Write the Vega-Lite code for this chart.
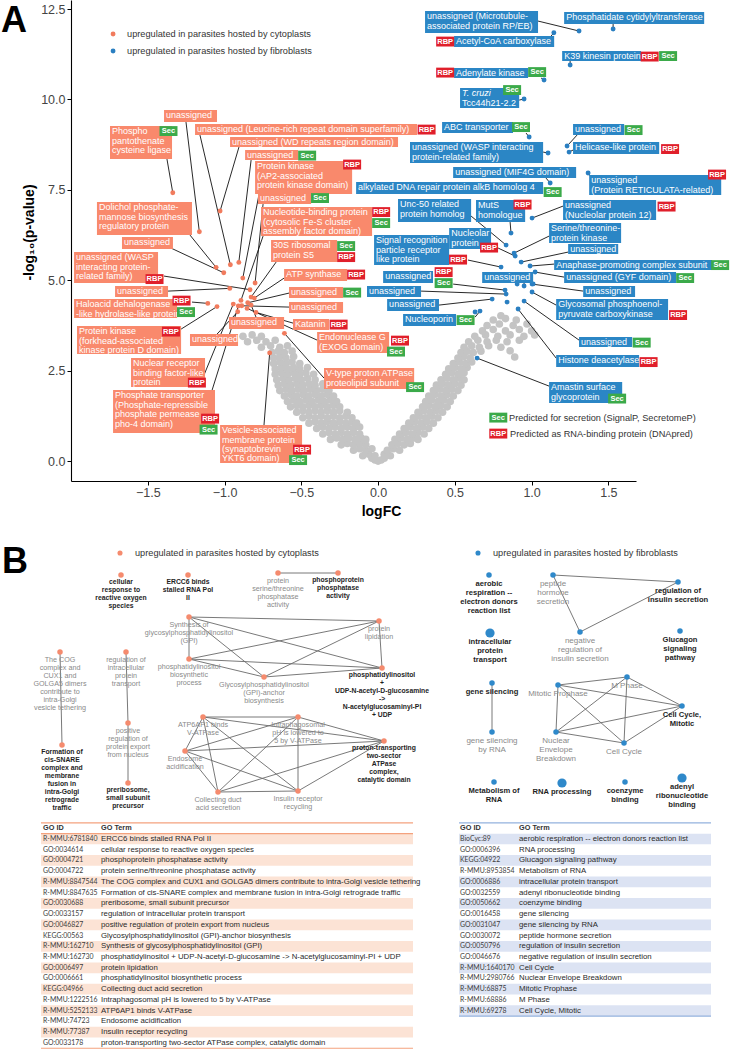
{
"$schema":"https://vega.github.io/schema/vega-lite/v6.json",
"background":"white",
"padding":0,
"spacing":0,
"bounds":"flush",
"config":{"view":{"stroke":null},"font":"Liberation Sans"},
"datasets":{
"gray":[
{"x":0,"y":0},{"x":-0.02,"y":0.03},{"x":0.02,"y":0.03},{"x":-0.04,"y":0.08},{"x":0.04,"y":0.08},
{"x":-0.10,"y":0.15},{"x":-0.06,"y":0.19},{"x":-0.02,"y":0.15},{"x":0.04,"y":0.19},{"x":0.08,"y":0.15},
{"x":-0.16,"y":0.30},{"x":-0.12,"y":0.34},{"x":-0.08,"y":0.30},{"x":-0.04,"y":0.34},{"x":0.06,"y":0.30},{"x":0.10,"y":0.34},{"x":0.14,"y":0.30},
{"x":-0.24,"y":0.45},{"x":-0.20,"y":0.49},{"x":-0.16,"y":0.45},{"x":-0.12,"y":0.49},{"x":-0.08,"y":0.45},{"x":0.09,"y":0.45},{"x":0.13,"y":0.49},{"x":0.17,"y":0.45},{"x":0.21,"y":0.49},
{"x":-0.31,"y":0.60},{"x":-0.27,"y":0.64},{"x":-0.23,"y":0.60},{"x":-0.19,"y":0.64},{"x":-0.15,"y":0.60},{"x":-0.11,"y":0.64},{"x":-0.08,"y":0.60},{"x":0.11,"y":0.60},{"x":0.15,"y":0.64},{"x":0.19,"y":0.60},{"x":0.23,"y":0.64},{"x":0.26,"y":0.60},
{"x":-0.36,"y":0.75},{"x":-0.32,"y":0.79},{"x":-0.28,"y":0.75},{"x":-0.24,"y":0.79},{"x":-0.20,"y":0.75},{"x":-0.16,"y":0.79},{"x":-0.12,"y":0.75},{"x":0.14,"y":0.75},{"x":0.18,"y":0.79},{"x":0.22,"y":0.75},{"x":0.26,"y":0.79},{"x":0.30,"y":0.75},
{"x":-0.40,"y":0.90},{"x":-0.36,"y":0.94},{"x":-0.32,"y":0.90},{"x":-0.28,"y":0.94},{"x":-0.24,"y":0.90},{"x":-0.20,"y":0.94},{"x":-0.16,"y":0.90},{"x":-0.12,"y":0.94},{"x":0.17,"y":0.90},{"x":0.21,"y":0.94},{"x":0.25,"y":0.90},{"x":0.29,"y":0.94},{"x":0.33,"y":0.90},
{"x":-0.45,"y":1.05},{"x":-0.41,"y":1.09},{"x":-0.37,"y":1.05},{"x":-0.33,"y":1.09},{"x":-0.29,"y":1.05},{"x":-0.25,"y":1.09},{"x":-0.21,"y":1.05},{"x":-0.17,"y":1.09},{"x":-0.14,"y":1.05},{"x":0.20,"y":1.05},{"x":0.24,"y":1.09},{"x":0.28,"y":1.05},{"x":0.32,"y":1.09},{"x":0.36,"y":1.05},
{"x":-0.49,"y":1.20},{"x":-0.45,"y":1.24},{"x":-0.41,"y":1.20},{"x":-0.37,"y":1.24},{"x":-0.33,"y":1.20},{"x":-0.29,"y":1.24},{"x":-0.25,"y":1.20},{"x":-0.21,"y":1.24},{"x":-0.17,"y":1.20},{"x":0.23,"y":1.20},{"x":0.27,"y":1.24},{"x":0.31,"y":1.20},{"x":0.35,"y":1.24},{"x":0.39,"y":1.20},
{"x":-0.53,"y":1.35},{"x":-0.49,"y":1.39},{"x":-0.45,"y":1.35},{"x":-0.41,"y":1.39},{"x":-0.37,"y":1.35},{"x":-0.33,"y":1.39},{"x":-0.29,"y":1.35},{"x":-0.25,"y":1.39},{"x":-0.20,"y":1.35},{"x":0.26,"y":1.35},{"x":0.30,"y":1.39},{"x":0.34,"y":1.35},{"x":0.38,"y":1.39},{"x":0.42,"y":1.35},
{"x":-0.57,"y":1.50},{"x":-0.53,"y":1.54},{"x":-0.49,"y":1.50},{"x":-0.45,"y":1.54},{"x":-0.41,"y":1.50},{"x":-0.37,"y":1.54},{"x":-0.33,"y":1.50},{"x":-0.29,"y":1.54},{"x":-0.25,"y":1.50},{"x":0.29,"y":1.50},{"x":0.33,"y":1.54},{"x":0.37,"y":1.50},{"x":0.41,"y":1.54},{"x":0.45,"y":1.50},
{"x":-0.59,"y":1.65},{"x":-0.55,"y":1.69},{"x":-0.51,"y":1.65},{"x":-0.47,"y":1.69},{"x":-0.43,"y":1.65},{"x":-0.39,"y":1.69},{"x":-0.35,"y":1.65},{"x":-0.31,"y":1.69},{"x":-0.27,"y":1.65},{"x":0.31,"y":1.65},{"x":0.35,"y":1.69},{"x":0.39,"y":1.65},{"x":0.43,"y":1.69},{"x":0.47,"y":1.65},
{"x":-0.61,"y":1.80},{"x":-0.57,"y":1.84},{"x":-0.53,"y":1.80},{"x":-0.49,"y":1.84},{"x":-0.45,"y":1.80},{"x":-0.41,"y":1.84},{"x":-0.37,"y":1.80},{"x":-0.33,"y":1.84},{"x":-0.29,"y":1.80},{"x":0.33,"y":1.80},{"x":0.37,"y":1.84},{"x":0.41,"y":1.80},{"x":0.45,"y":1.84},{"x":0.49,"y":1.80},
{"x":-0.64,"y":1.95},{"x":-0.60,"y":1.99},{"x":-0.56,"y":1.95},{"x":-0.52,"y":1.99},{"x":-0.48,"y":1.95},{"x":-0.44,"y":1.99},{"x":-0.40,"y":1.95},{"x":-0.36,"y":1.99},{"x":-0.32,"y":1.95},{"x":0.36,"y":1.95},{"x":0.40,"y":1.99},{"x":0.44,"y":1.95},{"x":0.48,"y":1.99},{"x":0.52,"y":1.95},
{"x":-0.65,"y":2.10},{"x":-0.61,"y":2.14},{"x":-0.57,"y":2.10},{"x":-0.53,"y":2.14},{"x":-0.49,"y":2.10},{"x":-0.45,"y":2.14},{"x":-0.41,"y":2.10},{"x":-0.36,"y":2.14},{"x":0.38,"y":2.10},{"x":0.42,"y":2.14},{"x":0.46,"y":2.10},{"x":0.50,"y":2.14},{"x":0.54,"y":2.10},
{"x":-0.66,"y":2.25},{"x":-0.62,"y":2.29},{"x":-0.58,"y":2.25},{"x":-0.54,"y":2.29},{"x":-0.50,"y":2.25},{"x":-0.46,"y":2.29},{"x":-0.41,"y":2.25},{"x":0.41,"y":2.25},{"x":0.45,"y":2.29},{"x":0.49,"y":2.25},{"x":0.53,"y":2.29},{"x":0.56,"y":2.25},
{"x":-0.67,"y":2.40},{"x":-0.63,"y":2.44},{"x":-0.59,"y":2.40},{"x":-0.55,"y":2.44},{"x":-0.51,"y":2.40},{"x":-0.47,"y":2.44},{"x":-0.42,"y":2.40},{"x":0.44,"y":2.40},{"x":0.48,"y":2.44},{"x":0.52,"y":2.40},{"x":0.56,"y":2.44},
{"x":-0.67,"y":2.55},{"x":-0.63,"y":2.59},{"x":-0.59,"y":2.55},{"x":-0.55,"y":2.59},{"x":-0.51,"y":2.55},{"x":-0.46,"y":2.59},{"x":0.46,"y":2.55},{"x":0.50,"y":2.59},{"x":0.54,"y":2.55},{"x":0.58,"y":2.59},
{"x":-0.68,"y":2.70},{"x":-0.64,"y":2.74},{"x":-0.60,"y":2.70},{"x":-0.56,"y":2.74},{"x":-0.51,"y":2.70},{"x":0.49,"y":2.70},{"x":0.53,"y":2.74},{"x":0.57,"y":2.70},{"x":0.61,"y":2.74},
{"x":-0.68,"y":2.85},{"x":-0.64,"y":2.89},{"x":-0.60,"y":2.85},{"x":-0.55,"y":2.89},{"x":0.52,"y":2.85},{"x":0.56,"y":2.89},{"x":0.60,"y":2.85},{"x":0.89,"y":2.88},
{"x":-0.69,"y":3.00},{"x":-0.65,"y":3.04},{"x":-0.61,"y":3.00},{"x":-0.56,"y":3.04},{"x":0.54,"y":3.00},{"x":0.58,"y":3.04},{"x":0.62,"y":3.00},{"x":0.67,"y":3.04},{"x":0.86,"y":3.05},
{"x":-0.76,"y":3.15},{"x":-0.70,"y":3.19},{"x":-0.64,"y":3.15},{"x":-0.59,"y":3.19},{"x":0.56,"y":3.15},{"x":0.61,"y":3.19},{"x":0.66,"y":3.15},{"x":0.72,"y":3.19},{"x":0.80,"y":3.15},
{"x":-0.85,"y":3.30},{"x":-0.79,"y":3.34},{"x":-0.73,"y":3.30},{"x":-0.67,"y":3.34},{"x":0.59,"y":3.30},{"x":0.65,"y":3.34},{"x":0.71,"y":3.30},{"x":0.77,"y":3.34},{"x":0.84,"y":3.30},{"x":0.92,"y":3.34},
{"x":-0.88,"y":3.45},{"x":-0.82,"y":3.49},{"x":-0.76,"y":3.45},{"x":0.63,"y":3.45},{"x":0.70,"y":3.49},{"x":0.78,"y":3.45},{"x":0.86,"y":3.49},{"x":0.95,"y":3.45},{"x":1.02,"y":3.49},
{"x":0.68,"y":3.60},{"x":0.75,"y":3.64},{"x":0.83,"y":3.60},{"x":0.92,"y":3.64},{"x":1.00,"y":3.60},
{"x":0.71,"y":3.75},{"x":0.79,"y":3.79},{"x":0.88,"y":3.75},{"x":0.97,"y":3.79},
{"x":0.75,"y":3.90},{"x":0.83,"y":3.94},{"x":0.90,"y":3.90},{"x":0.80,"y":4.02}
],
"labels":[
{"t":"unassigned","g":"c","x1":-1.394,"x2":-1.049,"y1":9.707,"y2":9.375,"px":-1.164,"py":6.341,"ax":-1.251,"ay":9.375},
{"t":"Phospho\npantothenate\ncysteine ligase","g":"c","x1":-1.746,"x2":-1.342,"y1":9.264,"y2":8.352,"px":-1.337,"py":7.42,"ax":-1.375,"ay":8.352},
{"t":"unassigned (Leucine-rich repeat domain superfamily)","g":"c","x1":-1.192,"x2":0.254,"y1":9.32,"y2":9.015,"px":-0.962,"py":5.429,"ax":-1.16,"ay":9.015},
{"t":"unassigned (WD repeats region domain)","g":"c","x1":-0.964,"x2":0.13,"y1":8.96,"y2":8.684,"px":-1.029,"py":6.914,"ax":-0.906,"ay":8.684},
{"t":"unassigned","g":"c","x1":-0.866,"x2":-0.521,"y1":8.601,"y2":8.324,"px":-0.907,"py":5.495,"ax":-0.827,"ay":8.324},
{"t":"Protein kinase\n(AP2-associated\nprotein kinase domain)","g":"c","x1":-0.801,"x2":-0.169,"y1":8.296,"y2":7.384,"px":-0.881,"py":5.061,"ax":-0.775,"ay":7.384},
{"t":"unassigned","g":"c","x1":-0.782,"x2":-0.436,"y1":7.412,"y2":7.107,"px":-0.801,"py":4.923,"ax":-0.749,"ay":7.107},
{"t":"Nucleotide-binding protein\n(cytosolic Fe-S cluster\nassembly factor domain)","g":"c","x1":-0.762,"x2":-0.039,"y1":7.024,"y2":6.222,"px":-0.893,"py":4.444,"ax":-0.749,"ay":6.222},
{"t":"30S ribosomal\nprotein S5","g":"c","x1":-0.697,"x2":-0.267,"y1":6.112,"y2":5.503,"px":-0.827,"py":4.535,"ax":-0.664,"ay":5.503},
{"t":"ATP synthase","g":"c","x1":-0.612,"x2":-0.202,"y1":5.31,"y2":4.978,"px":-0.806,"py":4.508,"ax":-0.612,"ay":5.061},
{"t":"unassigned","g":"c","x1":-0.58,"x2":-0.228,"y1":4.812,"y2":4.508,"px":-0.849,"py":4.378,"ax":-0.58,"ay":4.646},
{"t":"unassigned","g":"c","x1":-0.58,"x2":-0.228,"y1":4.397,"y2":4.093,"px":-0.888,"py":4.295,"ax":-0.58,"ay":4.259},
{"t":"Katanin","g":"c","x1":-0.554,"x2":-0.319,"y1":3.927,"y2":3.623,"px":-0.795,"py":4.112,"ax":-0.554,"ay":3.816},
{"t":"Endonuclease G\n(EXOG domain)","g":"c","x1":-0.397,"x2":0.072,"y1":3.567,"y2":2.987,"px":-0.853,"py":4.223,"ax":-0.397,"ay":3.346},
{"t":"V-type proton ATPase\nproteolipid subunit","g":"c","x1":-0.352,"x2":0.235,"y1":2.572,"y2":1.991,"px":-0.61,"py":3.532,"ax":-0.352,"ay":2.295},
{"t":"Vesicle-associated\nmembrane protein\n(synaptobrevin\nYKT6 domain)","g":"c","x1":-1.029,"x2":-0.495,"y1":0.996,"y2":-0.055,"px":-0.706,"py":2.992,"ax":-0.743,"ay":0.996},
{"t":"Phosphate transporter\n(Phosphate-repressible\nphosphate permease\npho-4 domain)","g":"c","x1":-1.726,"x2":-1.062,"y1":1.963,"y2":0.774,"px":-0.91,"py":4.287,"ax":-1.081,"ay":1.963},
{"t":"Nuclear receptor\nbinding factor-like\nprotein","g":"c","x1":-1.609,"x2":-1.127,"y1":2.848,"y2":2.046,"px":-0.943,"py":4.342,"ax":-1.134,"ay":2.378},
{"t":"unassigned","g":"c","x1":-1.225,"x2":-0.912,"y1":3.512,"y2":3.18,"px":-0.914,"py":4.129,"ax":-1.049,"ay":3.512},
{"t":"unassigned","g":"c","x1":-0.971,"x2":-0.612,"y1":3.982,"y2":3.65,"px":-0.827,"py":4.314,"ax":-0.795,"ay":3.982},
{"t":"Protein kinase\n(forkhead-associated\nkinase protein D domain)","g":"c","x1":-1.961,"x2":-1.283,"y1":3.733,"y2":2.959,"px":-1.049,"py":4.273,"ax":-1.283,"ay":3.65},
{"t":"Haloacid dehalogenase\n-like hydrolase-like protein","g":"c","x1":-1.98,"x2":-1.309,"y1":4.48,"y2":3.955,"px":-1.109,"py":4.361,"ax":-1.212,"ay":4.397},
{"t":"unassigned","g":"c","x1":-1.713,"x2":-1.368,"y1":4.84,"y2":4.535,"px":-0.966,"py":4.776,"ax":-1.368,"ay":4.701},
{"t":"unassigned (WASP\ninteracting protein-\nrelated family)","g":"c","x1":-1.98,"x2":-1.433,"y1":5.78,"y2":4.923,"px":-0.834,"py":4.74,"ax":-1.394,"ay":5.116},
{"t":"Dolichol phosphate-\nmannose biosynthesis\nregulatory protein","g":"c","x1":-1.831,"x2":-1.212,"y1":7.163,"y2":6.25,"px":-1.055,"py":5.357,"ax":-1.225,"ay":6.25},
{"t":"unassigned","g":"c","x1":-1.668,"x2":-1.336,"y1":6.195,"y2":5.863,"px":-1.005,"py":5.207,"ax":-1.349,"ay":5.891},
{"t":"unassigned (Microtubule-\nassociated protein RP/EB)","g":"f","x1":0.306,"x2":1.042,"y1":12.445,"y2":11.836,"px":1.309,"py":11.892,"ax":1.042,"ay":12.168},
{"t":"Acetyl-CoA carboxylase","g":"f","x1":0.495,"x2":1.147,"y1":11.753,"y2":11.449,"px":1.145,"py":11.845,"ax":1.127,"ay":11.753},
{"t":"Phosphatidate cytidylyltransferase","g":"f","x1":1.212,"x2":2.124,"y1":12.417,"y2":12.085,"px":1.531,"py":11.947,"ax":1.531,"ay":12.085},
{"t":"K39 kinesin protein","g":"f","x1":1.199,"x2":1.713,"y1":11.338,"y2":11.062,"px":1.251,"py":10.951,"ax":1.251,"ay":11.062},
{"t":"Adenylate kinase","g":"f","x1":0.495,"x2":0.977,"y1":10.868,"y2":10.592,"px":1.081,"py":10.536,"ax":1.062,"ay":10.592},
{"t":"\nTcc44h21-2.2","it":"T. cruzi","g":"f","x1":0.534,"x2":0.919,"y1":10.315,"y2":9.762,"px":0.951,"py":10.011,"ax":0.919,"ay":9.983},
{"t":"ABC transporter","g":"f","x1":0.417,"x2":0.879,"y1":9.375,"y2":9.071,"px":0.984,"py":8.96,"ax":0.964,"ay":9.071},
{"t":"unassigned (WASP interacting\nprotein-related family)","g":"f","x1":0.208,"x2":1.075,"y1":8.822,"y2":8.241,"px":1.107,"py":8.518,"ax":1.075,"ay":8.545},
{"t":"unassigned","g":"f","x1":1.27,"x2":1.603,"y1":9.32,"y2":9.015,"px":1.231,"py":8.711,"ax":1.296,"ay":9.015},
{"t":"Helicase-like protein","g":"f","x1":1.27,"x2":1.831,"y1":8.822,"y2":8.49,"px":1.244,"py":8.545,"ax":1.27,"ay":8.601},
{"t":"unassigned (MIF4G domain)","g":"f","x1":0.489,"x2":1.29,"y1":8.131,"y2":7.826,"px":1.121,"py":7.688,"ax":1.094,"ay":7.826},
{"t":"alkylated DNA repair protein alkB homolog 4","g":"f","x1":-0.143,"x2":1.075,"y1":7.716,"y2":7.384,"px":1.049,"py":7.55,"ax":1.049,"ay":7.55},
{"t":"unassigned\n(Protein RETICULATA-related)","g":"f","x1":1.375,"x2":2.235,"y1":7.909,"y2":7.356,"px":1.368,"py":7.965,"ax":1.388,"ay":7.854},
{"t":"Unc-50 related\nprotein homolog","g":"f","x1":0.13,"x2":0.606,"y1":7.246,"y2":6.61,"px":0.834,"py":5.973,"ax":0.606,"ay":6.775},
{"t":"MutS\nhomologue","g":"f","x1":0.638,"x2":0.958,"y1":7.218,"y2":6.61,"px":0.866,"py":6.305,"ax":0.86,"ay":6.61},
{"t":"unassigned\n(Nucleolar protein 12)","g":"f","x1":1.205,"x2":1.811,"y1":7.218,"y2":6.665,"px":1.003,"py":6.72,"ax":1.205,"ay":7.052},
{"t":"Nucleolar\nprotein","g":"f","x1":0.463,"x2":0.736,"y1":6.444,"y2":5.863,"px":0.893,"py":5.669,"ax":0.782,"ay":5.891},
{"t":"Serine/threonine-\nprotein kinase","g":"f","x1":1.114,"x2":1.583,"y1":6.582,"y2":6.029,"px":0.886,"py":5.752,"ax":1.114,"ay":6.222},
{"t":"Signal recognition\nparticle receptor\nlike protein","g":"f","x1":-0.026,"x2":0.463,"y1":6.25,"y2":5.42,"px":0.801,"py":5.365,"ax":0.586,"ay":5.559},
{"t":"unassigned","g":"f","x1":1.238,"x2":1.564,"y1":6.001,"y2":5.725,"px":0.932,"py":5.503,"ax":1.238,"ay":5.78},
{"t":"Anaphase-promoting complex subunit","g":"f","x1":1.147,"x2":2.176,"y1":5.559,"y2":5.282,"px":0.99,"py":5.393,"ax":1.147,"ay":5.448},
{"t":"unassigned (GYF domain)","g":"f","x1":1.212,"x2":1.941,"y1":5.227,"y2":4.923,"px":1.023,"py":5.227,"ax":1.212,"ay":5.088},
{"t":"unassigned","g":"f","x1":0.678,"x2":1.01,"y1":5.227,"y2":4.923,"px":0.951,"py":4.84,"ax":0.951,"ay":4.923},
{"t":"unassigned","g":"f","x1":0.033,"x2":0.358,"y1":5.254,"y2":4.923,"px":0.827,"py":4.729,"ax":0.489,"ay":4.895},
{"t":"unassigned","g":"f","x1":-0.072,"x2":0.28,"y1":4.84,"y2":4.535,"px":0.834,"py":4.618,"ax":0.28,"ay":4.701},
{"t":"unassigned","g":"f","x1":0.059,"x2":0.397,"y1":4.48,"y2":4.148,"px":0.743,"py":4.48,"ax":0.397,"ay":4.314},
{"t":"Nucleoporin","g":"f","x1":0.163,"x2":0.508,"y1":4.065,"y2":3.733,"px":0.664,"py":4.148,"ax":0.632,"ay":3.982},
{"t":"unassigned","g":"f","x1":1.336,"x2":1.674,"y1":4.84,"y2":4.535,"px":1.003,"py":4.895,"ax":1.336,"ay":4.701},
{"t":"Glycosomal phosphoenol-\npyruvate carboxykinase","g":"f","x1":1.16,"x2":1.889,"y1":4.48,"y2":3.899,"px":1.003,"py":4.674,"ax":1.16,"ay":4.314},
{"t":"unassigned","g":"f","x1":1.309,"x2":1.655,"y1":3.429,"y2":3.153,"px":0.951,"py":4.425,"ax":1.309,"ay":3.346},
{"t":"Histone deacetylase","g":"f","x1":1.16,"x2":1.7,"y1":2.931,"y2":2.6,"px":0.912,"py":4.204,"ax":1.16,"ay":2.848},
{"t":"Amastin surface\nglycoprotein","g":"f","x1":1.114,"x2":1.59,"y1":2.185,"y2":1.604,"px":0.645,"py":2.848,"ax":1.114,"ay":2.074}
],
"extra":[
{"g":"f","x":0.906,"y":4.895},{"g":"f","x":0.84,"y":4.397},{"g":"f","x":0.632,"y":4.121},{"g":"f","x":1.01,"y":4.9}
],
"tags":[
{"k":"Sec","x":-1.365,"y":9.126},{"k":"RBP","x":0.316,"y":9.167},{"k":"Sec","x":-0.462,"y":8.448},{"k":"RBP","x":-0.169,"y":8.2},
{"k":"Sec","x":-0.378,"y":7.273},{"k":"RBP","x":0.02,"y":6.886},{"k":"Sec","x":0.02,"y":6.582},{"k":"Sec","x":-0.208,"y":5.946},
{"k":"RBP","x":-0.208,"y":5.641},{"k":"RBP","x":-0.143,"y":5.158},{"k":"Sec","x":-0.169,"y":4.66},{"k":"RBP","x":-0.257,"y":3.775},
{"k":"RBP","x":0.143,"y":3.332},{"k":"Sec","x":0.117,"y":3.028},{"k":"Sec","x":0.241,"y":2.046},{"k":"RBP","x":-0.495,"y":0.318},
{"k":"Sec","x":-0.521,"y":0.028},{"k":"RBP","x":-1.094,"y":1.175},{"k":"Sec","x":-1.104,"y":0.871},{"k":"RBP","x":-1.18,"y":2.171},
{"k":"RBP","x":-1.349,"y":3.581},{"k":"RBP","x":-1.28,"y":4.438},{"k":"Sec","x":-1.251,"y":4.12},{"k":"RBP","x":-1.456,"y":5.033},
{"k":"RBP","x":0.437,"y":11.601},{"k":"RBP","x":1.769,"y":11.186},{"k":"Sec","x":1.889,"y":11.2},{"k":"RBP","x":0.437,"y":10.743},
{"k":"Sec","x":1.036,"y":10.757},{"k":"Sec","x":0.873,"y":10.26},{"k":"Sec","x":0.931,"y":9.236},{"k":"Sec","x":1.664,"y":9.153},
{"k":"RBP","x":1.902,"y":8.628},{"k":"Sec","x":1.137,"y":7.439},{"k":"RBP","x":2.208,"y":7.923},{"k":"RBP","x":0.941,"y":7.093},
{"k":"RBP","x":1.879,"y":7.038},{"k":"RBP","x":0.723,"y":5.904},{"k":"RBP","x":0.521,"y":5.572},{"k":"Sec","x":2.228,"y":5.42},
{"k":"Sec","x":2.0,"y":5.061},{"k":"RBP","x":0.427,"y":5.226},{"k":"Sec","x":0.427,"y":4.922},{"k":"Sec","x":0.57,"y":3.899},
{"k":"RBP","x":1.954,"y":4.038},{"k":"Sec","x":1.717,"y":3.277},{"k":"RBP","x":1.762,"y":2.738},{"k":"Sec","x":1.557,"y":1.729},
{"k":"Sec","x":0.783,"y":1.203},{"k":"RBP","x":0.783,"y":0.761}
],
"legA":[
{"t":"upregulated in parasites hosted by cytoplasts","g":"c","x":-1.726,"y":11.808},
{"t":"upregulated in parasites hosted by fibroblasts","g":"f","x":-1.726,"y":11.338}
],
"legA2":[
{"t":"Predicted for secretion (SignalP, SecretomeP)","x":0.853,"y":1.2},
{"t":"Predicted as RNA-binding protein (DNApred)","x":0.86,"y":0.76}
],
"nodes":[
{"id":"N1","g":"c","lead":1,"n":1,"x":120,"y":575,"t":"cellular\nresponse to\nreactive oxygen\nspecies"},
{"id":"N2","g":"c","lead":1,"n":1,"x":187,"y":575,"t":"ERCC6 binds\nstalled RNA Pol\nII"},
{"id":"N3","g":"c","lead":0,"n":1,"x":277,"y":573,"t":"protein\nserine/threonine\nphosphatase\nactivity"},
{"id":"N4","g":"c","lead":1,"n":1,"x":337,"y":573,"t":"phosphoprotein\nphosphatase\nactivity"},
{"id":"N5","g":"c","lead":0,"n":1,"x":188,"y":617,"t":"Synthesis of\nglycosylphosphatidylinositol\n(GPI)"},
{"id":"N6","g":"c","lead":0,"n":1,"x":378,"y":621,"t":"protein\nlipidation"},
{"id":"N7","g":"c","lead":0,"n":1,"x":188,"y":659,"t":"phosphatidylinositol\nbiosynthetic\nprocess"},
{"id":"N8","g":"c","lead":0,"n":1,"x":263,"y":677,"t":"Glycosylphosphatidylinositol\n(GPI)-anchor\nbiosynthesis"},
{"id":"N9","g":"c","lead":1,"n":1,"x":381,"y":668,"t":"phosphatidylinositol\n+\nUDP-N-acetyl-D-glucosamine\n->\nN-acetylglucosaminyl-PI\n+ UDP"},
{"id":"N10","g":"c","lead":0,"n":1,"x":59,"y":652,"t":"The COG\ncomplex and\nCUX1 and\nGOLGA5 dimers\ncontribute to\nintra-Golgi\nvesicle tethering"},
{"id":"N11","g":"c","lead":1,"n":1,"x":61,"y":745,"t":"Formation of\ncis-SNARE\ncomplex and\nmembrane\nfusion in\nintra-Golgi\nretrograde\ntraffic"},
{"id":"N12","g":"c","lead":0,"n":1,"x":125,"y":652,"t":"regulation of\nintracellular\nprotein\ntransport"},
{"id":"N13","g":"c","lead":0,"n":1,"x":127,"y":723,"t":"positive\nregulation of\nprotein export\nfrom nucleus"},
{"id":"N14","g":"c","lead":1,"n":1,"x":127,"y":783,"t":"preribosome,\nsmall subunit\nprecursor"},
{"id":"N15","g":"c","lead":0,"n":1,"x":202,"y":717,"t":"ATP6AP1 binds\nV-ATPase"},
{"id":"N16","g":"c","lead":0,"n":1,"x":297,"y":717,"t":"Intraphagosomal\npH is lowered to\n5 by V-ATPase"},
{"id":"N17","g":"c","lead":1,"n":1,"x":383,"y":741,"t":"proton-transporting\ntwo-sector\nATPase\ncomplex,\ncatalytic domain"},
{"id":"N18","g":"c","lead":0,"n":1,"x":184,"y":751,"t":"Endosome\nacidification"},
{"id":"N19","g":"c","lead":0,"n":1,"x":217,"y":792,"t":"Collecting duct\nacid secretion"},
{"id":"N20","g":"c","lead":0,"n":1,"x":297,"y":791,"t":"Insulin receptor\nrecycling"},
{"id":"R1","g":"f","lead":1,"n":1,"x":488,"y":575,"t":"aerobic\nrespiration --\nelectron donors\nreaction list"},
{"id":"R2","g":"f","lead":0,"n":1,"x":552,"y":575,"t":"peptide\nhormone\nsecretion"},
{"id":"R3","g":"f","lead":1,"n":1,"x":677,"y":582,"t":"regulation of\ninsulin secretion"},
{"id":"R4","g":"f","lead":0,"n":1,"x":579,"y":632,"t":"negative\nregulation of\ninsulin secretion"},
{"id":"R5","g":"f","lead":1,"n":3,"x":489,"y":633,"t":"intracellular\nprotein\ntransport"},
{"id":"R6","g":"f","lead":1,"n":1,"x":679,"y":631,"t":"Glucagon\nsignaling\npathway"},
{"id":"R7","g":"f","lead":1,"n":1,"x":491,"y":683,"t":"gene silencing"},
{"id":"R8","g":"f","lead":0,"n":1,"x":491,"y":732,"t":"gene silencing\nby RNA"},
{"id":"R9","g":"f","lead":0,"n":1,"x":557,"y":685,"t":"Mitotic Prophase"},
{"id":"R10","g":"f","lead":0,"n":1,"x":626,"y":677,"t":"M Phase"},
{"id":"R11","g":"f","lead":1,"n":1,"x":681,"y":706,"t":"Cell Cycle,\nMitotic"},
{"id":"R12","g":"f","lead":0,"n":1,"x":555,"y":732,"t":"Nuclear\nEnvelope\nBreakdown"},
{"id":"R13","g":"f","lead":0,"n":1,"x":623,"y":743,"t":"Cell Cycle"},
{"id":"R14","g":"f","lead":1,"n":1,"x":493,"y":782,"t":"Metabolism of\nRNA"},
{"id":"R15","g":"f","lead":1,"n":3,"x":561,"y":783,"t":"RNA processing"},
{"id":"R16","g":"f","lead":1,"n":1,"x":624,"y":782,"t":"coenzyme\nbinding"},
{"id":"R17","g":"f","lead":1,"n":3,"x":681,"y":778,"t":"adenyl\nribonucleotide\nbinding"}
],
"edges":[
{"s":"N3","t":"N4"},{"s":"N10","t":"N11"},{"s":"N12","t":"N13"},{"s":"N13","t":"N14"},
{"s":"N5","t":"N6"},{"s":"N5","t":"N7"},{"s":"N5","t":"N8"},{"s":"N5","t":"N9"},{"s":"N6","t":"N7"},{"s":"N6","t":"N8"},{"s":"N6","t":"N9"},{"s":"N7","t":"N8"},{"s":"N7","t":"N9"},{"s":"N8","t":"N9"},
{"s":"N15","t":"N16"},{"s":"N15","t":"N17"},{"s":"N15","t":"N18"},{"s":"N15","t":"N19"},{"s":"N15","t":"N20"},{"s":"N16","t":"N17"},{"s":"N16","t":"N18"},{"s":"N16","t":"N19"},{"s":"N16","t":"N20"},{"s":"N17","t":"N18"},{"s":"N17","t":"N19"},{"s":"N17","t":"N20"},{"s":"N18","t":"N19"},{"s":"N18","t":"N20"},{"s":"N19","t":"N20"},
{"s":"R2","t":"R3"},{"s":"R2","t":"R4"},{"s":"R3","t":"R4"},{"s":"R7","t":"R8"},
{"s":"R9","t":"R10"},{"s":"R9","t":"R11"},{"s":"R9","t":"R12"},{"s":"R9","t":"R13"},{"s":"R10","t":"R11"},{"s":"R10","t":"R12"},{"s":"R10","t":"R13"},{"s":"R11","t":"R12"},{"s":"R11","t":"R13"},{"s":"R12","t":"R13"}
],
"legB":[
{"t":"upregulated in parasites hosted by cytoplasts","g":"c","x":119,"y":553},
{"t":"upregulated in parasites hosted by fibroblasts","g":"f","x":477,"y":553}
],
"tmeta":[
{"tb":"L","x1":40,"x2":412,"xid":42,"xterm":100},
{"tb":"R","x1":458,"x2":710,"xid":459,"xterm":518}
],
"tlines":[
{"tb":"L","i":-0.5},{"tb":"L","i":0.5},{"tb":"L","i":20.5},{"tb":"R","i":-0.5},{"tb":"R","i":17.5}
],
"rows":[
{"tb":"L","i":0,"id":"GO ID","term":"GO Term"},
{"tb":"L","i":1,"id":"R-MMU:6781840","term":"ERCC6 binds stalled RNA Pol II"},
{"tb":"L","i":2,"id":"GO:0034614","term":"cellular response to reactive oxygen species"},
{"tb":"L","i":3,"id":"GO:0004721","term":"phosphoprotein phosphatase activity"},
{"tb":"L","i":4,"id":"GO:0004722","term":"protein serine/threonine phosphatase activity"},
{"tb":"L","i":5,"id":"R-MMU:8847544","term":"The COG complex and CUX1 and GOLGA5 dimers contribute to intra-Golgi vesicle tethering"},
{"tb":"L","i":6,"id":"R-MMU:8847635","term":"Formation of cis-SNARE complex and membrane fusion in intra-Golgi retrograde traffic"},
{"tb":"L","i":7,"id":"GO:0030688","term":"preribosome, small subunit precursor"},
{"tb":"L","i":8,"id":"GO:0033157","term":"regulation of intracellular protein transport"},
{"tb":"L","i":9,"id":"GO:0046827","term":"positive regulation of protein export from nucleus"},
{"tb":"L","i":10,"id":"KEGG:00563","term":"Glycosylphosphatidylinositol (GPI)-anchor biosynthesis"},
{"tb":"L","i":11,"id":"R-MMU:162710","term":"Synthesis of glycosylphosphatidylinositol (GPI)"},
{"tb":"L","i":12,"id":"R-MMU:162730","term":"phosphatidylinositol + UDP-N-acetyl-D-glucosamine -> N-acetylglucosaminyl-PI + UDP"},
{"tb":"L","i":13,"id":"GO:0006497","term":"protein lipidation"},
{"tb":"L","i":14,"id":"GO:0006661","term":"phosphatidylinositol biosynthetic process"},
{"tb":"L","i":15,"id":"KEGG:04966","term":"Collecting duct acid secretion"},
{"tb":"L","i":16,"id":"R-MMU:1222516","term":"Intraphagosomal pH is lowered to 5 by V-ATPase"},
{"tb":"L","i":17,"id":"R-MMU:5252133","term":"ATP6AP1 binds V-ATPase"},
{"tb":"L","i":18,"id":"R-MMU:74723","term":"Endosome acidification"},
{"tb":"L","i":19,"id":"R-MMU:77387","term":"Insulin receptor recycling"},
{"tb":"L","i":20,"id":"GO:0033178","term":"proton-transporting two-sector ATPase complex, catalytic domain"},
{"tb":"R","i":0,"id":"GO ID","term":"GO Term"},
{"tb":"R","i":1,"id":"BioCyc:89","term":"aerobic respiration -- electron donors reaction list"},
{"tb":"R","i":2,"id":"GO:0006396","term":"RNA processing"},
{"tb":"R","i":3,"id":"KEGG:04922","term":"Glucagon signaling pathway"},
{"tb":"R","i":4,"id":"R-MMU:8953854","term":"Metabolism of RNA"},
{"tb":"R","i":5,"id":"GO:0006886","term":"intracellular protein transport"},
{"tb":"R","i":6,"id":"GO:0032559","term":"adenyl ribonucleotide binding"},
{"tb":"R","i":7,"id":"GO:0050662","term":"coenzyme binding"},
{"tb":"R","i":8,"id":"GO:0016458","term":"gene silencing"},
{"tb":"R","i":9,"id":"GO:0031047","term":"gene silencing by RNA"},
{"tb":"R","i":10,"id":"GO:0030072","term":"peptide hormone secretion"},
{"tb":"R","i":11,"id":"GO:0050796","term":"regulation of insulin secretion"},
{"tb":"R","i":12,"id":"GO:0046676","term":"negative regulation of insulin secretion"},
{"tb":"R","i":13,"id":"R-MMU:1640170","term":"Cell Cycle"},
{"tb":"R","i":14,"id":"R-MMU:2980766","term":"Nuclear Envelope Breakdown"},
{"tb":"R","i":15,"id":"R-MMU:68875","term":"Mitotic Prophase"},
{"tb":"R","i":16,"id":"R-MMU:68886","term":"M Phase"},
{"tb":"R","i":17,"id":"R-MMU:69278","term":"Cell Cycle, Mitotic"}
]
},
"vconcat":[
{
"width":565,"height":481,
"resolve":{"scale":{"color":"independent"}},
"layer":[
{"data":{"name":"gray"},"mark":{"type":"circle","size":58,"color":"#C4C4C4","opacity":1},
 "encoding":{
  "x":{"field":"x","type":"quantitative","scale":{"domain":[-2,1.68],"nice":false,"zero":false},
   "axis":{"title":"logFC","values":[-1.5,-1,-0.5,0,0.5,1,1.5],"format":".1f","grid":false,"domainColor":"#000","domainWidth":1.1,"tickColor":"#000","tickSize":4,"labelFontSize":12.5,"labelColor":"#444","labelPadding":1,"titleFontSize":14,"titleFontWeight":"bold","titleColor":"#000","titlePadding":6,"titleX":310}},
  "y":{"field":"y","type":"quantitative","scale":{"domain":[-0.55,12.75],"nice":false,"zero":false},
   "axis":{"title":"-log₁₀(p-value)","values":[0,2.5,5,7.5,10,12.5],"format":".1f","grid":false,"domainColor":"#000","domainWidth":1.1,"tickColor":"#000","tickSize":4,"labelFontSize":12.5,"labelColor":"#444","labelPadding":2,"titleFontSize":14,"titleFontWeight":"bold","titleColor":"#000","titlePadding":4,"titleY":232}}
 }},
{"data":{"name":"labels"},"mark":{"type":"rule","color":"#111","strokeWidth":0.9},
 "encoding":{
  "x":{"field":"px","type":"quantitative","scale":{"domain":[-2,1.68],"nice":false,"zero":false}},
  "y":{"field":"py","type":"quantitative","scale":{"domain":[-0.55,12.75],"nice":false,"zero":false}},
  "x2":{"field":"ax"},"y2":{"field":"ay"}}},
{"data":{"name":"labels"},"mark":{"type":"circle","size":24,"opacity":1},
 "encoding":{
  "x":{"field":"px","type":"quantitative","scale":{"domain":[-2,1.68],"nice":false,"zero":false}},
  "y":{"field":"py","type":"quantitative","scale":{"domain":[-0.55,12.75],"nice":false,"zero":false}},
  "color":{"field":"g","type":"nominal","scale":{"domain":["c","f"],"range":["#F17B5D","#2A7FC1"]},"legend":null}}},
{"data":{"name":"extra"},"mark":{"type":"circle","size":24,"opacity":1},
 "encoding":{
  "x":{"field":"x","type":"quantitative","scale":{"domain":[-2,1.68],"nice":false,"zero":false}},
  "y":{"field":"y","type":"quantitative","scale":{"domain":[-0.55,12.75],"nice":false,"zero":false}},
  "color":{"field":"g","type":"nominal","scale":{"domain":["c","f"],"range":["#F17B5D","#2A7FC1"]},"legend":null}}},
{"data":{"name":"labels"},"mark":{"type":"rect","opacity":1},
 "encoding":{
  "x":{"field":"x1","type":"quantitative","scale":{"domain":[-2,1.68],"nice":false,"zero":false}},
  "x2":{"field":"x2"},
  "y":{"field":"y1","type":"quantitative","scale":{"domain":[-0.55,12.75],"nice":false,"zero":false}},
  "y2":{"field":"y2"},
  "color":{"field":"g","type":"nominal","scale":{"domain":["c","f"],"range":["#F9896C","#2B86C5"]},"legend":null}}},
{"data":{"name":"labels"},"mark":{"type":"text","align":"left","baseline":"top","dx":2,"dy":1.2,"fontSize":9,"lineHeight":9.4,"lineBreak":"\n","color":"white"},
 "encoding":{
  "x":{"field":"x1","type":"quantitative","scale":{"domain":[-2,1.68],"nice":false,"zero":false}},
  "y":{"field":"y1","type":"quantitative","scale":{"domain":[-0.55,12.75],"nice":false,"zero":false}},
  "text":{"field":"t"}}},
{"data":{"name":"labels"},"transform":[{"filter":"datum.it"}],"mark":{"type":"text","align":"left","baseline":"top","dx":2,"dy":1.2,"fontSize":9,"fontStyle":"italic","color":"white"},
 "encoding":{
  "x":{"field":"x1","type":"quantitative","scale":{"domain":[-2,1.68],"nice":false,"zero":false}},
  "y":{"field":"y1","type":"quantitative","scale":{"domain":[-0.55,12.75],"nice":false,"zero":false}},
  "text":{"field":"it"}}},
{"data":{"name":"tags"},"mark":{"type":"point","filled":true,"shape":"M-1,-0.55H1V0.55H-1Z","size":324,"opacity":1,"strokeWidth":0},
 "encoding":{
  "x":{"field":"x","type":"quantitative","scale":{"domain":[-2,1.68],"nice":false,"zero":false}},
  "y":{"field":"y","type":"quantitative","scale":{"domain":[-0.55,12.75],"nice":false,"zero":false}},
  "color":{"field":"k","type":"nominal","scale":{"domain":["Sec","RBP"],"range":["#3BAA4A","#E01F2B"]},"legend":null}}},
{"data":{"name":"tags"},"mark":{"type":"text","align":"center","baseline":"middle","fontSize":7.5,"fontWeight":"bold","color":"white"},
 "encoding":{
  "x":{"field":"x","type":"quantitative","scale":{"domain":[-2,1.68],"nice":false,"zero":false}},
  "y":{"field":"y","type":"quantitative","scale":{"domain":[-0.55,12.75],"nice":false,"zero":false}},
  "text":{"field":"k"}}},
{"data":{"name":"legA"},"mark":{"type":"circle","size":24,"opacity":1},
 "encoding":{
  "x":{"field":"x","type":"quantitative","scale":{"domain":[-2,1.68],"nice":false,"zero":false}},
  "y":{"field":"y","type":"quantitative","scale":{"domain":[-0.55,12.75],"nice":false,"zero":false}},
  "color":{"field":"g","type":"nominal","scale":{"domain":["c","f"],"range":["#F17B5D","#2A7FC1"]},"legend":null}}},
{"data":{"name":"legA"},"mark":{"type":"text","align":"left","baseline":"middle","dx":14,"fontSize":9.2,"color":"#333"},
 "encoding":{
  "x":{"field":"x","type":"quantitative","scale":{"domain":[-2,1.68],"nice":false,"zero":false}},
  "y":{"field":"y","type":"quantitative","scale":{"domain":[-0.55,12.75],"nice":false,"zero":false}},
  "text":{"field":"t"}}},
{"data":{"name":"legA2"},"mark":{"type":"text","align":"left","baseline":"middle","fontSize":9.2,"color":"#333"},
 "encoding":{
  "x":{"field":"x","type":"quantitative","scale":{"domain":[-2,1.68],"nice":false,"zero":false}},
  "y":{"field":"y","type":"quantitative","scale":{"domain":[-0.55,12.75],"nice":false,"zero":false}},
  "text":{"field":"t"}}},
{"data":{"values":[{"t":"A","x":-2.456,"y":11.86}]},"mark":{"type":"text","align":"left","baseline":"alphabetic","fontSize":36,"fontWeight":"bold","color":"#000"},
 "encoding":{
  "x":{"field":"x","type":"quantitative","scale":{"domain":[-2,1.68],"nice":false,"zero":false}},
  "y":{"field":"y","type":"quantitative","scale":{"domain":[-0.55,12.75],"nice":false,"zero":false}},
  "text":{"field":"t"}}}
]
},
{
"width":660,"height":568,
"resolve":{"scale":{"y":"independent","color":"independent"}},
"layer":[
{"data":{"name":"edges"},
 "transform":[
  {"lookup":"s","from":{"data":{"name":"nodes"},"key":"id","fields":["x","y"]},"as":["sx","sy"]},
  {"lookup":"t","from":{"data":{"name":"nodes"},"key":"id","fields":["x","y"]},"as":["tx","ty"]}],
 "mark":{"type":"rule","color":"#6a6a6a","strokeWidth":0.9},
 "encoding":{
  "x":{"field":"sx","type":"quantitative","scale":{"domain":[70,730],"nice":false,"zero":false},"axis":null},
  "y":{"field":"sy","type":"quantitative","scale":{"domain":[481,1049],"nice":false,"zero":false,"reverse":true},"axis":null},
  "x2":{"field":"tx"},"y2":{"field":"ty"}}},
{"data":{"name":"nodes"},"mark":{"type":"circle","opacity":1},
 "encoding":{
  "x":{"field":"x","type":"quantitative","scale":{"domain":[70,730],"nice":false,"zero":false},"axis":null},
  "y":{"field":"y","type":"quantitative","scale":{"domain":[481,1049],"nice":false,"zero":false,"reverse":true},"axis":null},
  "size":{"field":"n","type":"quantitative","scale":{"domain":[1,3],"range":[30,85]},"legend":null},
  "color":{"field":"g","type":"nominal","scale":{"domain":["c","f"],"range":["#F58B6E","#2F89CA"]},"legend":null}}},
{"data":{"name":"nodes"},"transform":[{"filter":"datum.g=='c' && datum.lead==0"}],
 "mark":{"type":"text","align":"center","baseline":"top","dy":4,"fontSize":7.2,"lineHeight":8,"lineBreak":"\n","color":"#8a8a8a"},
 "encoding":{
  "x":{"field":"x","type":"quantitative","scale":{"domain":[70,730],"nice":false,"zero":false},"axis":null},
  "y":{"field":"y","type":"quantitative","scale":{"domain":[481,1049],"nice":false,"zero":false,"reverse":true},"axis":null},
  "text":{"field":"t"}}},
{"data":{"name":"nodes"},"transform":[{"filter":"datum.g=='c' && datum.lead==1"}],
 "mark":{"type":"text","align":"center","baseline":"top","dy":4,"fontSize":6.8,"fontWeight":"bold","lineHeight":8,"lineBreak":"\n","color":"#1e1e1e"},
 "encoding":{
  "x":{"field":"x","type":"quantitative","scale":{"domain":[70,730],"nice":false,"zero":false},"axis":null},
  "y":{"field":"y","type":"quantitative","scale":{"domain":[481,1049],"nice":false,"zero":false,"reverse":true},"axis":null},
  "text":{"field":"t"}}},
{"data":{"name":"nodes"},"transform":[{"filter":"datum.g=='f' && datum.lead==0"}],
 "mark":{"type":"text","align":"center","baseline":"top","dy":4.5,"fontSize":8,"lineHeight":9,"lineBreak":"\n","color":"#8a8a8a"},
 "encoding":{
  "x":{"field":"x","type":"quantitative","scale":{"domain":[70,730],"nice":false,"zero":false},"axis":null},
  "y":{"field":"y","type":"quantitative","scale":{"domain":[481,1049],"nice":false,"zero":false,"reverse":true},"axis":null},
  "text":{"field":"t"}}},
{"data":{"name":"nodes"},"transform":[{"filter":"datum.g=='f' && datum.lead==1"}],
 "mark":{"type":"text","align":"center","baseline":"top","dy":5,"fontSize":7.6,"fontWeight":"bold","lineHeight":9,"lineBreak":"\n","color":"#1e1e1e"},
 "encoding":{
  "x":{"field":"x","type":"quantitative","scale":{"domain":[70,730],"nice":false,"zero":false},"axis":null},
  "y":{"field":"y","type":"quantitative","scale":{"domain":[481,1049],"nice":false,"zero":false,"reverse":true},"axis":null},
  "text":{"field":"t"}}},
{"data":{"name":"legB"},"mark":{"type":"circle","size":26,"opacity":1},
 "encoding":{
  "x":{"field":"x","type":"quantitative","scale":{"domain":[70,730],"nice":false,"zero":false},"axis":null},
  "y":{"field":"y","type":"quantitative","scale":{"domain":[481,1049],"nice":false,"zero":false,"reverse":true},"axis":null},
  "color":{"field":"g","type":"nominal","scale":{"domain":["c","f"],"range":["#F58B6E","#2F89CA"]},"legend":null}}},
{"data":{"name":"legB"},"mark":{"type":"text","align":"left","baseline":"middle","dx":15,"fontSize":9.2,"color":"#333"},
 "encoding":{
  "x":{"field":"x","type":"quantitative","scale":{"domain":[70,730],"nice":false,"zero":false},"axis":null},
  "y":{"field":"y","type":"quantitative","scale":{"domain":[481,1049],"nice":false,"zero":false,"reverse":true},"axis":null},
  "text":{"field":"t"}}},
{"data":{"values":[{"t":"B","x":1,"y":573}]},"mark":{"type":"text","align":"left","baseline":"alphabetic","fontSize":36,"fontWeight":"bold","color":"#000"},
 "encoding":{
  "x":{"field":"x","type":"quantitative","scale":{"domain":[70,730],"nice":false,"zero":false},"axis":null},
  "y":{"field":"y","type":"quantitative","scale":{"domain":[481,1049],"nice":false,"zero":false,"reverse":true},"axis":null},
  "text":{"field":"t"}}},
{"data":{"name":"rows"},
 "transform":[{"filter":"datum.i > 0 && datum.i % 2 == 1"},{"lookup":"tb","from":{"data":{"name":"tmeta"},"key":"tb","fields":["x1","x2"]}}],
 "mark":{"type":"rule","strokeWidth":10.73,"strokeCap":"butt"},
 "encoding":{
  "x":{"field":"x1","type":"quantitative","scale":{"domain":[70,730],"nice":false,"zero":false},"axis":null},
  "x2":{"field":"x2"},
  "y":{"field":"i","type":"quantitative","scale":{"domain":[-32.36,20.57],"nice":false,"zero":false,"reverse":true},"axis":null},
  "color":{"field":"tb","type":"nominal","scale":{"domain":["L","R"],"range":["#FCE3D5","#DCE3F3"]},"legend":null}}},
{"data":{"name":"tlines"},
 "transform":[{"lookup":"tb","from":{"data":{"name":"tmeta"},"key":"tb","fields":["x1","x2"]}}],
 "mark":{"type":"rule","strokeWidth":1.2},
 "encoding":{
  "x":{"field":"x1","type":"quantitative","scale":{"domain":[70,730],"nice":false,"zero":false},"axis":null},
  "x2":{"field":"x2"},
  "y":{"field":"i","type":"quantitative","scale":{"domain":[-32.36,20.57],"nice":false,"zero":false,"reverse":true},"axis":null},
  "color":{"field":"tb","type":"nominal","scale":{"domain":["L","R"],"range":["#F4A27E","#93B2DE"]},"legend":null}}},
{"data":{"name":"rows"},
 "transform":[{"filter":"datum.i > 0"},{"lookup":"tb","from":{"data":{"name":"tmeta"},"key":"tb","fields":["xid"]}}],
 "mark":{"type":"text","align":"left","baseline":"middle","font":"Lato","fontSize":6.9,"color":"#3c3c3c"},
 "encoding":{
  "x":{"field":"xid","type":"quantitative","scale":{"domain":[70,730],"nice":false,"zero":false},"axis":null},
  "y":{"field":"i","type":"quantitative","scale":{"domain":[-32.36,20.57],"nice":false,"zero":false,"reverse":true},"axis":null},
  "text":{"field":"id"}}},
{"data":{"name":"rows"},
 "transform":[{"filter":"datum.i > 0"},{"lookup":"tb","from":{"data":{"name":"tmeta"},"key":"tb","fields":["xterm"]}}],
 "mark":{"type":"text","align":"left","baseline":"middle","fontSize":7.8,"color":"#2a2a2a"},
 "encoding":{
  "x":{"field":"xterm","type":"quantitative","scale":{"domain":[70,730],"nice":false,"zero":false},"axis":null},
  "y":{"field":"i","type":"quantitative","scale":{"domain":[-32.36,20.57],"nice":false,"zero":false,"reverse":true},"axis":null},
  "text":{"field":"term"}}},
{"data":{"name":"rows"},
 "transform":[{"filter":"datum.i == 0"},{"lookup":"tb","from":{"data":{"name":"tmeta"},"key":"tb","fields":["xid"]}}],
 "mark":{"type":"text","align":"left","baseline":"middle","fontSize":7.3,"fontWeight":"bold","color":"#333"},
 "encoding":{
  "x":{"field":"xid","type":"quantitative","scale":{"domain":[70,730],"nice":false,"zero":false},"axis":null},
  "y":{"field":"i","type":"quantitative","scale":{"domain":[-32.36,20.57],"nice":false,"zero":false,"reverse":true},"axis":null},
  "text":{"field":"id"}}},
{"data":{"name":"rows"},
 "transform":[{"filter":"datum.i == 0"},{"lookup":"tb","from":{"data":{"name":"tmeta"},"key":"tb","fields":["xterm"]}}],
 "mark":{"type":"text","align":"left","baseline":"middle","fontSize":7.3,"fontWeight":"bold","color":"#333"},
 "encoding":{
  "x":{"field":"xterm","type":"quantitative","scale":{"domain":[70,730],"nice":false,"zero":false},"axis":null},
  "y":{"field":"i","type":"quantitative","scale":{"domain":[-32.36,20.57],"nice":false,"zero":false,"reverse":true},"axis":null},
  "text":{"field":"term"}}}
]
}
]
}
